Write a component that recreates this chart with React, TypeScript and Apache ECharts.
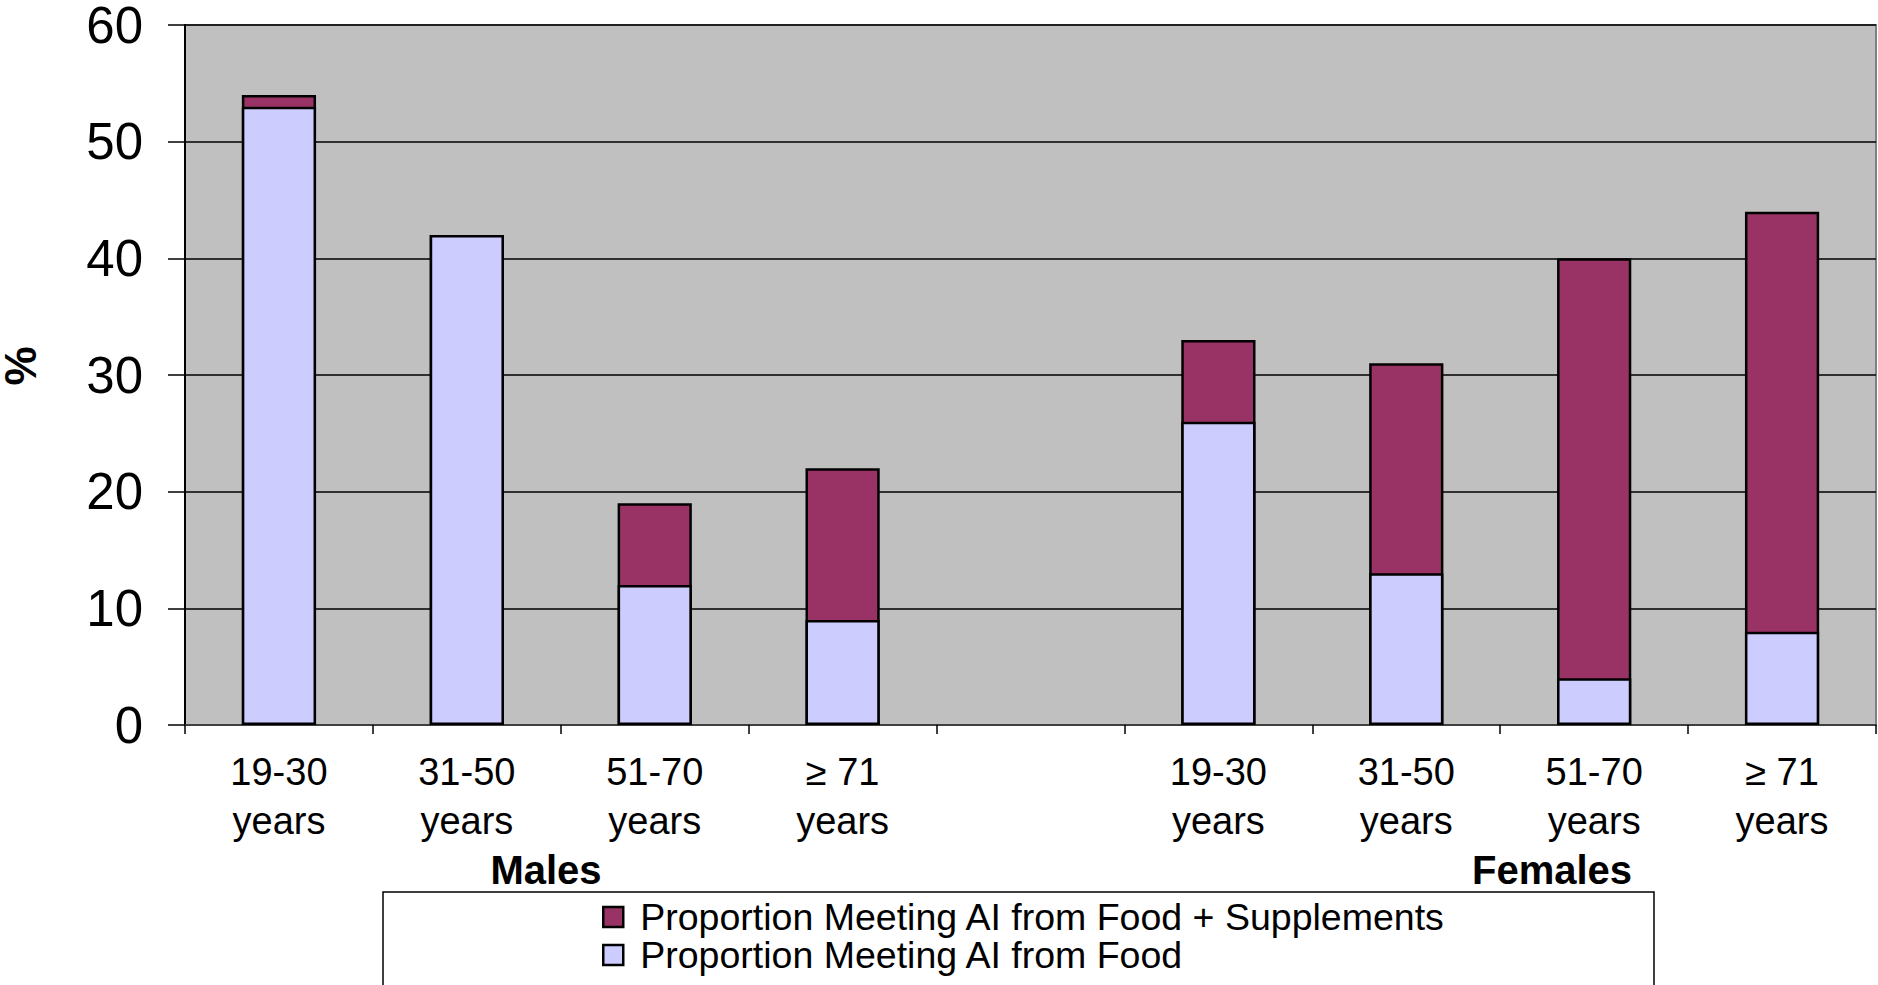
import React, { useEffect, useRef } from "react";
import * as echarts from "echarts";

const categories = [
  "19-30\nyears",
  "31-50\nyears",
  "51-70\nyears",
  "≥ 71\nyears",
  "",
  "19-30\nyears",
  "31-50\nyears",
  "51-70\nyears",
  "≥ 71\nyears",
];
const foodPlusSupplements = [54, 42, 19, 22, null, 33, 31, 40, 44];
const foodOnly = [53, 42, 12, 9, null, 26, 13, 4, 8];
const seriesNames = [
  "Proportion Meeting AI from Food + Supplements",
  "Proportion Meeting AI from Food",
];
const groupLabels = ["Males", "Females"];
const yAxisTitle = "%";
const yTicks = { min: 0, max: 60, interval: 10 };

const FONT = "'Liberation Sans', Arial, Helvetica, sans-serif";

export default function App() {
  const ref = useRef<HTMLDivElement>(null);
  useEffect(() => {
    document.body.style.margin = "0";
    document.body.style.overflow = "hidden";
    const chart = echarts.init(ref.current!, null, { renderer: "svg" });
    chart.setOption({
      animation: false,
      backgroundColor: "#ffffff",
      textStyle: { fontFamily: FONT },
      grid: {
        left: 185,
        right: 2,
        top: 25,
        bottom: 260,
        outerBoundsMode: "none",
        containLabel: false,
        show: true,
        backgroundColor: "#C0C0C0",
        borderColor: "#808080",
        borderWidth: 2,
      },
      xAxis: {
        type: "category",
        data: categories,
        axisLine: { show: true, lineStyle: { color: "#404040", width: 2 } },
        axisTick: {
          show: true,
          alignWithLabel: false,
          interval: 0,
          length: 9,
          lineStyle: { color: "#000", width: 1.5 },
        },
        axisLabel: {
          interval: 0,
          margin: 22,
          fontSize: 38,
          lineHeight: 49,
          color: "#000",
          fontFamily: FONT,
        },
        splitLine: { show: false },
      },
      yAxis: {
        type: "value",
        min: yTicks.min,
        max: yTicks.max,
        interval: yTicks.interval,
        axisLine: { show: true, lineStyle: { color: "#000", width: 2 } },
        axisTick: { show: true, length: 17, lineStyle: { color: "#000", width: 1.5 } },
        axisLabel: { margin: 42, fontSize: 51, color: "#000", fontFamily: FONT },
        splitLine: { show: true, lineStyle: { color: "#000", width: 1.5 } },
      },
      legend: {
        orient: "vertical",
        left: 602,
        top: 898,
        height: 200,
        itemWidth: 20,
        itemHeight: 20,
        itemGap: 0,
        padding: 0,
        icon: "rect",
        data: seriesNames,
        textStyle: {
          fontSize: 37.5,
          lineHeight: 37,
          color: "#000",
          fontFamily: FONT,
          padding: [0, 0, 0, 12],
        },
        itemStyle: { borderColor: "#000", borderWidth: 2.5 },
      },
      graphic: [
        {
          type: "rect",
          z: 0,
          shape: { x: 383, y: 892, width: 1271, height: 120 },
          style: { fill: "#fff", stroke: "#000", lineWidth: 1.5 },
        },
        {
          type: "text",
          x: 20,
          y: 366,
          rotation: Math.PI / 2,
          style: {
            text: yAxisTitle,
            fontSize: 44,
            fontWeight: "bold",
            fontFamily: FONT,
            fill: "#000",
            align: "center",
            verticalAlign: "middle",
          },
        },
        {
          type: "text",
          x: 546,
          y: 870,
          style: {
            text: groupLabels[0],
            fontSize: 40,
            fontWeight: "bold",
            fontFamily: FONT,
            fill: "#000",
            align: "center",
            verticalAlign: "middle",
          },
        },
        {
          type: "text",
          x: 1552,
          y: 870,
          style: {
            text: groupLabels[1],
            fontSize: 40,
            fontWeight: "bold",
            fontFamily: FONT,
            fill: "#000",
            align: "center",
            verticalAlign: "middle",
          },
        },
      ],
      series: [
        {
          name: seriesNames[0],
          type: "bar",
          data: foodPlusSupplements,
          barWidth: "39.5%",
          barGap: "-100%",
          itemStyle: { color: "#993366", borderColor: "#000", borderWidth: 2.5 },
        },
        {
          name: seriesNames[1],
          type: "bar",
          data: foodOnly,
          barWidth: "39.5%",
          barGap: "-100%",
          itemStyle: { color: "#CCCCFF", borderColor: "#000", borderWidth: 2.5 },
        },
      ],
    });
    return () => chart.dispose();
  }, []);
  return <div ref={ref} style={{ width: 1878, height: 985 }} />;
}
